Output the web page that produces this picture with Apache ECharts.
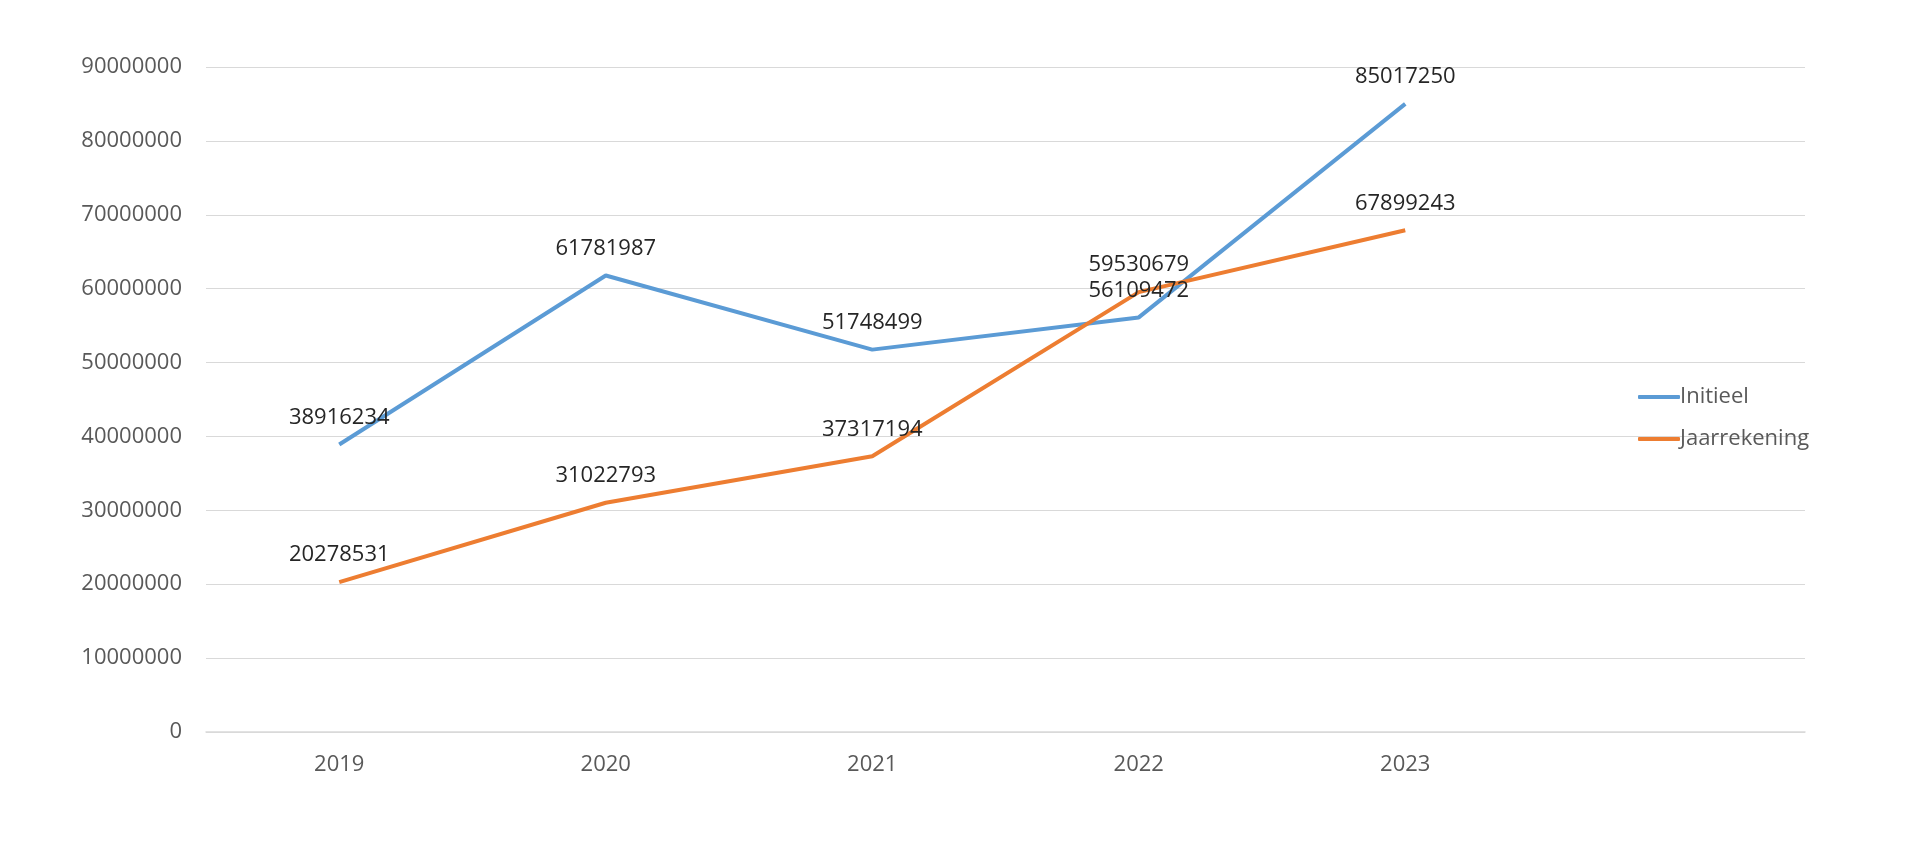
<!DOCTYPE html>
<html>
<head>
<meta charset="utf-8">
<title>Initieel / Jaarrekening</title>
<script src="https://cdn.jsdelivr.net/npm/echarts@6/dist/echarts.min.js"></script>
<style>
  html, body { margin: 0; padding: 0; background: #fff; }
  #chart { width: 1920px; height: 841px; }
</style>
</head>
<body>
<div id="chart"></div>
<script>
// jaren op de x-as (laatste plek is leeg, zoals in het origineel)
const years = ['2019', '2020', '2021', '2022', '2023', ''];

// reeksen
const initieel = [38916234, 61781987, 51748499, 56109472, 85017250];
const jaarrekening = [20278531, 31022793, 37317194, 59530679, 67899243];

const FONT = '"Open Sans", "Noto Sans", sans-serif';

const chart = echarts.init(document.getElementById('chart'));

const lineSeries = (name, data, color) => ({
    name: name,
    type: 'line',
    data: data,
    symbol: 'circle',
    symbolSize: 0,
    lineStyle: { color: color, width: 4 },
    itemStyle: { color: color },
    label: {
        show: true,
        position: 'top',
        distance: 16,
        color: '#262626',
        fontSize: 22,
        fontFamily: FONT
    },
    emphasis: { disabled: true },
    animation: false
});

chart.setOption({
    backgroundColor: '#ffffff',
    textStyle: { fontFamily: FONT },
    grid: {
        left: 206,
        right: 115,
        top: 67,
        bottom: 109
    },
    legend: {
        orient: 'vertical',
        left: 1633,
        top: 381,
        itemWidth: 42,
        itemHeight: 4,
        itemGap: 20,
        icon: 'roundRect',
        textStyle: { color: '#595959', fontSize: 22, fontFamily: FONT, padding: [0, 0, 0, -5] },
        data: ['Initieel', 'Jaarrekening']
    },
    xAxis: {
        type: 'category',
        data: years,
        boundaryGap: true,
        axisLine: { lineStyle: { color: '#d9d9d9', width: 1.5 } },
        axisTick: { show: false },
        axisLabel: { color: '#595959', fontSize: 22, fontFamily: FONT, margin: 22 }
    },
    yAxis: {
        type: 'value',
        min: 0,
        max: 90000000,
        interval: 10000000,
        axisLine: { show: false },
        axisTick: { show: false },
        axisLabel: {
            color: '#595959',
            fontSize: 22,
            fontFamily: FONT,
            margin: 24,
            formatter: v => String(v)
        },
        splitLine: { lineStyle: { color: '#d9d9d9', width: 1.2 } }
    },
    series: [
        lineSeries('Initieel', initieel, '#5b9bd5'),
        lineSeries('Jaarrekening', jaarrekening, '#ed7d31')
    ]
});
</script>
</body>
</html>
